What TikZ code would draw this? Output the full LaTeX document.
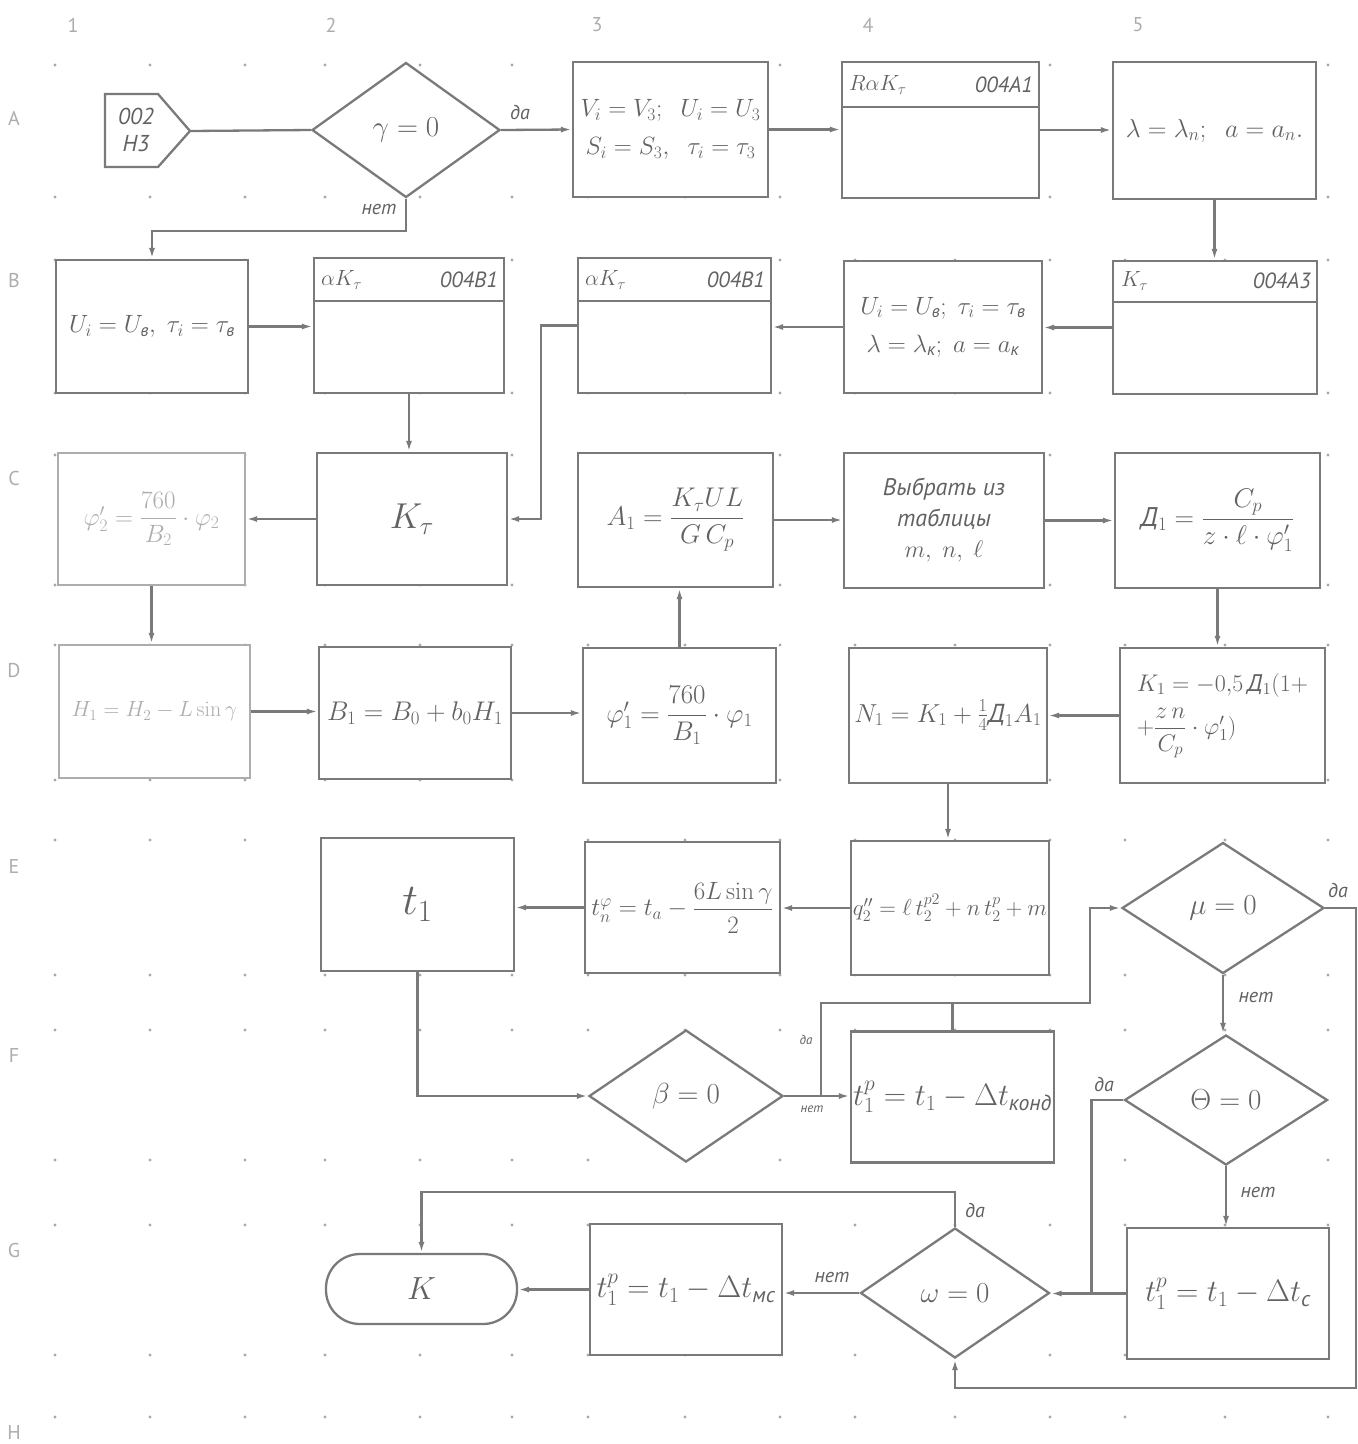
\RequirePackage{fix-cm}
\documentclass[tikz,border=0pt]{standalone}
\usepackage{amsmath}
\usepackage[no-math]{fontspec}
\setmainfont{PT Sans}
\usetikzlibrary{shapes.geometric,arrows.meta,calc}
\definecolor{ink}{HTML}{626262}
\definecolor{lineC}{HTML}{7A7A7A}
\definecolor{faint}{HTML}{ADADAD}
\definecolor{dotC}{HTML}{A8A8A8}
\newcommand\cy[1]{\text{\itshape #1}}
\begin{document}
\begin{tikzpicture}[x=1pt,y=-1pt,line width=2.3pt]
\tikzset{
  box/.style={draw=lineC, fill=white, line width=2.3pt, inner sep=2pt, align=center,
              font=\fontsize{27}{38}\selectfont, text=ink},
  fbox/.style={box, draw=faint, text=faint},
  dia/.style={diamond, draw=lineC, fill=white, line width=2.3pt, inner sep=0pt,
              font=\fontsize{29}{32}\selectfont, text=ink},
  term/.style={draw=lineC, fill=white, line width=2.3pt, rounded corners=34pt,
              font=\fontsize{32}{34}\selectfont, text=ink},
  arr/.style={-{Latex[length=11pt,width=6pt]}, draw=lineC, line width=2.3pt},
  con/.style={draw=lineC, line width=2.3pt},
  lbl/.style={font=\fontsize{20}{22}\selectfont\itshape, text=ink, inner sep=1pt},
  slbl/.style={font=\fontsize{13}{14}\selectfont\itshape, text=ink, inner sep=1pt},
  hdr/.style={font=\fontsize{22}{24}\selectfont\itshape, text=ink, inner sep=0pt},
  grid/.style={font=\fontsize{20}{22}\selectfont, text=faint, inner sep=0pt}
}
\fill[white] (0,0) rectangle (1358,1444);
\useasboundingbox (0,0) rectangle (1358,1444);

% grid dots
\foreach \x in {55,150,245,325,420,512,588,685,780,855,955,1050,1125,1225,1328}
  \foreach \y in {65,197,260,393,455,585,645,780,840,975,1030,1160,1225,1355,1417}
    \fill[dotC] (\x,\y) circle (1.6);

% column and row labels
\node[grid] (c1) at (73,25) {1};
\node[grid] (c2) at (331,25) {2};
\node[grid] (c3) at (597,25) {3};
\node[grid] (c4) at (868,25) {4};
\node[grid] (c5) at (1138,25) {5};
\node[grid] (rA) at (14,118) {A};
\node[grid] (rB) at (14,280) {B};
\node[grid] (rC) at (14,478) {C};
\node[grid] (rD) at (14,670) {D};
\node[grid] (rE) at (14,866) {E};
\node[grid] (rF) at (14,1055) {F};
\node[grid] (rG) at (14,1250) {G};
\node[grid] (rH) at (14,1432) {H};

% off-page connector
\coordinate (p) at (190,131);
\fill[white] (105,94) -- (158,94) -- (p) -- (158,167) -- (105,167) -- cycle;
\draw[con] (105,94) -- (158,94) -- (p) -- (158,167) -- (105,167) -- cycle;
\node[font=\fontsize{23}{27}\selectfont\itshape, text=ink, align=center] (start) at (136,130) {002\\H3};

% row A
\node[dia, minimum width=188pt, minimum height=135pt] (g) at (406,130) {$\gamma=0$};
\node[box, minimum width=195pt, minimum height=135pt, font=\fontsize{25}{38}\selectfont] (A3) at (670.5,129.5)
  {$V_i=V_3;\;\;U_i=U_3$\\$S_i=S_3,\;\;\tau_i=\tau_3$};
\node[box, minimum width=197pt, minimum height=136pt] (A4) at (940.5,130) {};
\draw[con] (842,107) -- (1039,107);
\node[hdr, anchor=west] (A4a) at (848,85) {$R\alpha K_\tau$};
\node[hdr, anchor=east] (A4b) at (1034,85) {004A1};
\node[box, minimum width=203pt, minimum height=137pt, font=\fontsize{26}{30}\selectfont] (A5) at (1214.5,130.5)
  {$\lambda=\lambda_n;\;\;a=a_n.$};

% row B
\node[box, minimum width=192pt, minimum height=133pt, font=\fontsize{25}{30}\selectfont] (B1) at (152,326.5)
  {$U_i=U_{\cy{в}},\;\tau_i=\tau_{\cy{в}}$};
\node[box, minimum width=190pt, minimum height=135pt] (B2) at (409,325.5) {};
\draw[con] (314,301) -- (504,301);
\node[hdr, anchor=west] (B2a) at (320,280) {$\alpha K_\tau$};
\node[hdr, anchor=east] (B2b) at (499,280) {004B1};
\node[box, minimum width=193pt, minimum height=135pt] (B3) at (674.5,325.5) {};
\draw[con] (578,301) -- (771,301);
\node[hdr, anchor=west] (B3a) at (584,280) {$\alpha K_\tau$};
\node[hdr, anchor=east] (B3b) at (766,280) {004B1};
\node[box, minimum width=198pt, minimum height=132pt, font=\fontsize{25}{38}\selectfont] (B4) at (943,327)
  {$U_i=U_{\cy{в}};\;\tau_i=\tau_{\cy{в}}$\\$\lambda=\lambda_{\cy{к}};\;a=a_{\cy{к}}$};
\node[box, minimum width=204pt, minimum height=133pt] (B5) at (1215,327.5) {};
\draw[con] (1113,302) -- (1317,302);
\node[hdr, anchor=west] (B5a) at (1120,281) {$K_\tau$};
\node[hdr, anchor=east] (B5b) at (1312,281) {004A3};

% row C
\node[fbox, minimum width=187pt, minimum height=132pt, font=\fontsize{25}{30}\selectfont] (C1) at (151.5,519)
  {$\varphi_2'=\dfrac{760}{B_2}\cdot\varphi_2$};
\node[box, minimum width=190pt, minimum height=132pt, font=\fontsize{36}{38}\selectfont] (C2) at (412,519) {$K_\tau$};
\node[box, minimum width=195pt, minimum height=134pt] (C3) at (675.5,520)
  {$A_1=\dfrac{K_\tau U L}{G\,C_p}$};
\node[box, minimum width=200pt, minimum height=135pt, font=\fontsize{24}{31}\selectfont\itshape] (C4) at (944,520.5)
  {Выбрать из\\таблицы\\$m,\;n,\;\ell$};
\node[box, minimum width=205pt, minimum height=135pt] (C5) at (1217.5,520.5)
  {$\cy{Д}_1=\dfrac{C_p}{z\cdot\ell\cdot\varphi_1'}$};

% row D
\node[fbox, minimum width=191pt, minimum height=133pt, font=\fontsize{22}{26}\selectfont] (D1) at (154.5,711.5)
  {$H_1=H_2-L\sin\gamma$};
\node[box, minimum width=192pt, minimum height=132pt] (D2) at (415,713)
  {$B_1=B_0+b_0H_1$};
\node[box, minimum width=193pt, minimum height=135pt] (D3) at (679.5,715.5)
  {$\varphi_1'=\dfrac{760}{B_1}\cdot\varphi_1$};
\node[box, minimum width=198pt, minimum height=135pt, font=\fontsize{26}{30}\selectfont] (D4) at (948,715.5)
  {$N_1=K_1+\frac{1}{4}\cy{Д}_1A_1$};
\node[box, minimum width=205pt, minimum height=135pt, align=left, font=\fontsize{24}{30}\selectfont] (D5) at (1222.5,715.5)
  {$K_1=-0{,}5\,\cy{Д}_1(1+$\\[10pt]$+\dfrac{z\,n}{C_p}\cdot\varphi_1')$};

% row E
\node[box, minimum width=193pt, minimum height=133pt, font=\fontsize{44}{46}\selectfont] (E2) at (417.5,904.5) {$t_1$};
\node[box, minimum width=195pt, minimum height=131pt, font=\fontsize{25}{30}\selectfont] (E3) at (682.5,907.5)
  {$t_n^{\varphi}=t_a-\dfrac{6L\sin\gamma}{2}$};
\node[box, minimum width=198pt, minimum height=134pt, font=\fontsize{23}{30}\selectfont] (E4) at (950,908)
  {$q_2''=\ell\,t_2^{p2}+n\,t_2^{p}+m$};
\node[dia, minimum width=202pt, minimum height=131pt] (m) at (1223,908) {$\mu=0$};

% row F
\node[dia, minimum width=194pt, minimum height=132pt] (b) at (686,1096) {$\beta=0$};
\node[box, minimum width=199pt, minimum height=131pt, font=\fontsize{31}{33}\selectfont] (F4) at (952.5,1097)
  {$t_1^p=t_1-\Delta t_{\cy{конд}}$};
\node[dia, minimum width=203pt, minimum height=130pt] (t) at (1226,1100) {$\Theta=0$};

% row G
\node[term, minimum width=191pt, minimum height=70pt] (K) at (421.5,1289) {$K$};
\node[box, minimum width=192pt, minimum height=131pt, font=\fontsize{31}{33}\selectfont] (G3) at (686,1289.5)
  {$t_1^p=t_1-\Delta t_{\cy{мс}}$};
\node[dia, minimum width=189pt, minimum height=130pt] (w) at (955,1293) {$\omega=0$};
\node[box, minimum width=202pt, minimum height=131pt, font=\fontsize{31}{33}\selectfont] (G5) at (1228,1293.5)
  {$t_1^p=t_1-\Delta t_{\cy{с}}$};

% connectors row A
\draw[con] (p) -- (g.west);
\draw[arr] (g.east) -- (A3.west);
\draw[arr] (A3.east) -- (A3.east -| A4.west);
\draw[arr] (A4.east) -- (A4.east -| A5.west);
\draw[arr] (g.south) -- ++(0,32) -| (B1.north);
\draw[arr] (A5.south) -- (A5.south |- B5.north);

% connectors row B
\draw[arr] (B5.west) -- (B5.west -| B4.east);
\draw[arr] (B4.west) -- (B4.west -| B3.east);
\draw[arr] (B1.east) -- (B1.east -| B2.west);
\draw[arr] (B3.west) -- ++(-36,0) |- (C2.east);
\draw[arr] (B2.south) -- (B2.south |- C2.north);

% connectors row C / D
\draw[arr] (C2.west) -- (C2.west -| C1.east);
\draw[arr] (C1.south) -- (C1.south |- D1.north);
\draw[arr] (D1.east) -- (D1.east -| D2.west);
\draw[arr] (D2.east) -- (D2.east -| D3.west);
\draw[arr] (D3.north) -- (D3.north |- C3.south);
\draw[arr] (C3.east) -- (C3.east -| C4.west);
\draw[arr] (C4.east) -- (C4.east -| C5.west);
\draw[arr] (C5.south) -- (C5.south |- D5.north);
\draw[arr] (D5.west) -- (D5.west -| D4.east);
\draw[arr] (D4.south) -- (D4.south |- E4.north);

% connectors row E / F
\draw[arr] (E4.west) -- (E4.west -| E3.east);
\draw[arr] (E3.west) -- (E3.west -| E2.east);
\draw[arr] (E2.south) |- (b.west);
\draw[arr] (b.east) -- (b.east -| F4.west);
\coordinate (j1) at ($(b.east)+(37,0)$);
\coordinate (j2) at (1090,1003);
\draw[arr] (j1) |- (j2) |- (m.west);
\draw[con] (F4.north) -- (F4.north |- j2);
\draw[arr] (m.south) -- (m.south |- t.north);
\draw[arr] (m.east) -- ++(31,0) |- ($(w.south)+(0,29)$) -- (w.south);
\draw[arr] (t.south) -- (t.south |- G5.north);
\draw[con] (t.west) -- ++(-32,0) coordinate (j3) -- (j3 |- w.east);

% connectors row G
\draw[arr] (G5.west) -- (G5.west -| w.east);
\draw[arr] (w.west) -- (w.west -| G3.east);
\draw[arr] (G3.west) -- (G3.west -| K.east);
\draw[arr] (w.north) -- ++(0,-35) -| (K.north);

% branch labels
\node[lbl] (l1) at (520,112) {да};
\node[lbl] (l2) at (379,209) {нет};
\node[slbl] (l3) at (806,1040) {да};
\node[slbl] (l4) at (812,1109) {нет};
\node[lbl] (l5) at (1338,890) {да};
\node[lbl] (l6) at (1256,997) {нет};
\node[lbl] (l7) at (1104,1084) {да};
\node[lbl] (l8) at (1258,1192) {нет};
\node[lbl] (l9) at (975,1210) {да};
\node[lbl] (l10) at (832,1277) {нет};
\end{tikzpicture}
\end{document}
